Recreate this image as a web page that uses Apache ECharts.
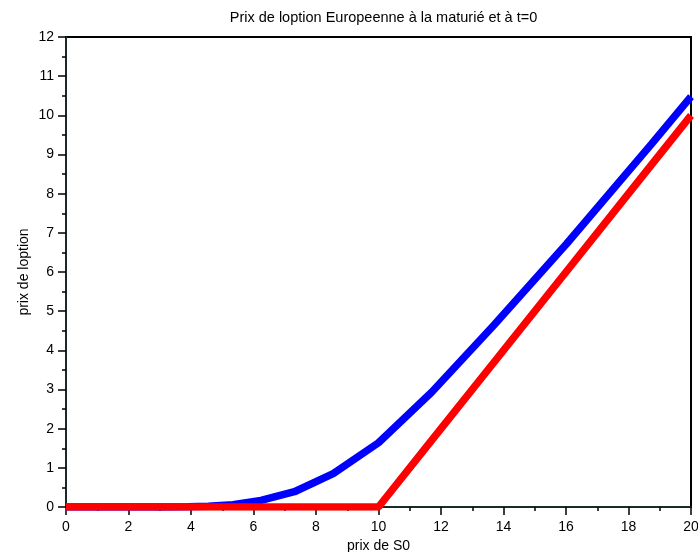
<!DOCTYPE html>
<html>
<head>
<meta charset="utf-8">
<script src="https://cdn.jsdelivr.net/npm/echarts@6/dist/echarts.min.js"></script>
<style>html,body{margin:0;padding:0;background:#fff}#c{width:698px;height:552px}</style>
</head>
<body>
<div id="c"></div>
<script>
const titleText = "Prix de loption Europeenne à la maturié et à t=0";
const xName = "prix de S0";
const yName = "prix de loption";
const S0 = [0, 2, 3.33, 3.9, 4.56, 5.34, 6.24, 7.31, 8.55, 10, 11.7, 13.69, 16.02, 18.74, 20];
const priceT0 = [0, 0, 0, 0.005, 0.02, 0.06, 0.17, 0.39, 0.85, 1.64, 2.93, 4.64, 6.72, 9.27, 10.48];
const payoff = [0, 0, 0, 0, 0, 0, 0, 0, 0, 0, 1.7, 3.69, 6.02, 8.74, 10];

const chart = echarts.init(document.getElementById('c'));
const font = 'Liberation Sans, Arial, sans-serif';
chart.setOption({
  animation: false,
  title: {
    text: titleText, left: 378.5, top: 5, textAlign: 'center',
    textStyle: { fontSize: 14.5, fontWeight: 'normal', color: '#000', fontFamily: font }
  },
  grid: { left: 66, right: 7, top: 37, bottom: 45, containLabel: false, outerBoundsMode: 'none',
          show: true, borderColor: '#000', borderWidth: 2, backgroundColor: 'transparent' },
  xAxis: {
    type: 'value', min: 0, max: 20, interval: 2,
    name: xName, nameLocation: 'middle', nameGap: 29,
    nameTextStyle: { fontSize: 14, color: '#000', fontFamily: font },
    axisLine: { show: true, onZero: false, lineStyle: { color: '#1a2a2a', width: 2 } },
    axisTick: { show: true, length: 8, lineStyle: { color: '#000', width: 1.5 } },
    minorTick: { show: true, splitNumber: 2, length: 4, lineStyle: { color: '#000', width: 1.5 } },
    axisLabel: { fontSize: 14, color: '#000', margin: 13, fontFamily: font },
    splitLine: { show: false }
  },
  yAxis: {
    type: 'value', min: 0, max: 12, interval: 1,
    name: yName, nameLocation: 'middle', nameGap: 35, nameRotate: 90, nameMoveOverlap: false,
    nameTextStyle: { fontSize: 14, color: '#000', fontFamily: font },
    axisLine: { show: true, onZero: false, lineStyle: { color: '#1a2a2a', width: 2 } },
    axisTick: { show: true, length: 8, lineStyle: { color: '#000', width: 1.5 } },
    minorTick: { show: true, splitNumber: 2, length: 4, lineStyle: { color: '#000', width: 1.5 } },
    axisLabel: { fontSize: 14, color: '#000', margin: 12, fontFamily: font },
    splitLine: { show: false }
  },
  series: [
    { type: 'line', data: S0.map((x, i) => [x, priceT0[i]]), showSymbol: false, symbol: 'none',
      lineStyle: { color: '#0000ff', width: 7.5 }, z: 2 },
    { type: 'line', data: S0.map((x, i) => [x, payoff[i]]), showSymbol: false, symbol: 'none',
      lineStyle: { color: '#ff0000', width: 7.5 }, z: 3 }
  ]
});
</script>
</body>
</html>
